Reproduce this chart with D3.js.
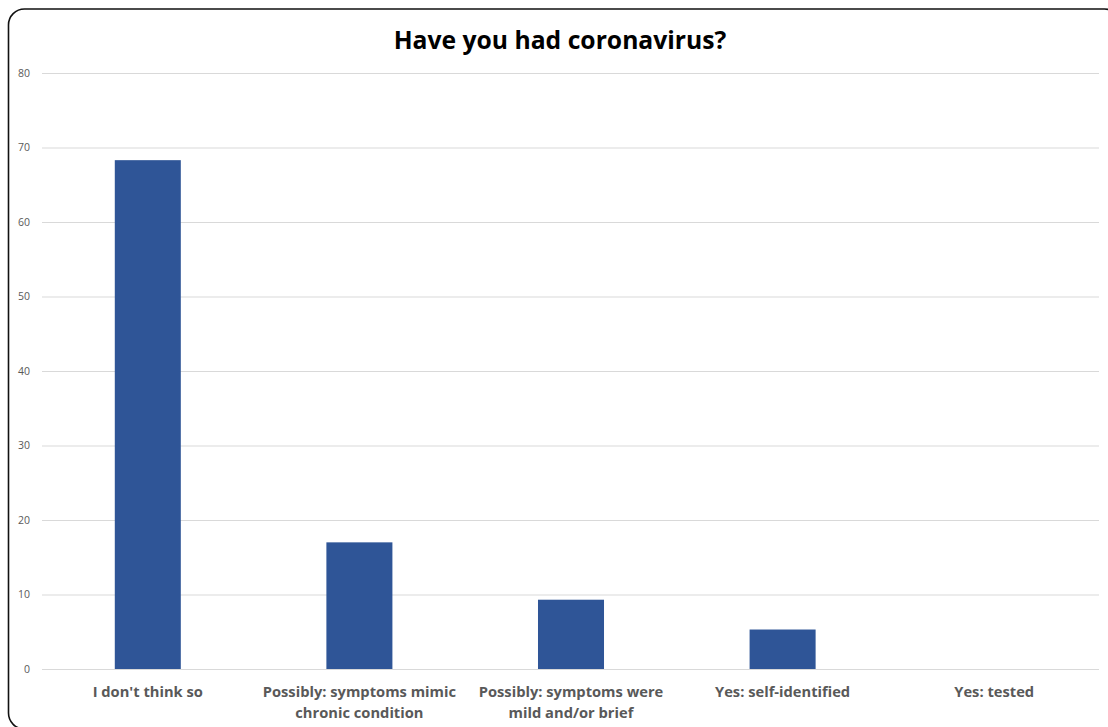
<!DOCTYPE html>
<html>
<head>
<meta charset="utf-8">
<script src="https://cdn.jsdelivr.net/npm/d3@7"></script>
<style>
  html, body { margin: 0; padding: 0; background: #fff; }
  svg { display: block; }
</style>
</head>
<body>
<script>
// Survey responses: "Have you had coronavirus?"
const categories = [
  ["I don't think so"],
  ["Possibly: symptoms mimic", "chronic condition"],
  ["Possibly: symptoms were", "mild and/or brief"],
  ["Yes: self-identified"],
  ["Yes: tested"]
];
const values = [68.3, 17.0, 9.3, 5.3, 0];
const yTicks = [0, 10, 20, 30, 40, 50, 60, 70, 80];
const title = "Have you had coronavirus?";

const W = 1108, H = 727;
const margin = { left: 42, right: 8, top: 73, bottom: 58 };
const font = "'Open Sans', Lato, sans-serif";

const svg = d3.select("body").append("svg")
  .attr("width", W).attr("height", H);

// chart frame with rounded corners
svg.append("rect")
  .attr("x", 8.5).attr("y", 9)
  .attr("width", 1112).attr("height", 720)
  .attr("rx", 16).attr("ry", 16)
  .attr("fill", "#fff")
  .attr("stroke", "#111").attr("stroke-width", 1.6);

const x = d3.scaleBand()
  .domain(d3.range(categories.length))
  .range([margin.left, W - margin.right])
  .paddingInner(0.688).paddingOuter(0.344);

const y = d3.scaleLinear()
  .domain([0, 80])
  .range([H - margin.bottom, margin.top]);

// gridlines + y labels
const yAxis = d3.axisLeft(y).tickValues(yTicks)
  .tickSize(-(W - margin.left - margin.right - 1)).tickPadding(12)
  .tickFormat(d3.format("d"));
const gy = svg.append("g")
  .attr("transform", `translate(${margin.left},0)`)
  .call(yAxis);
gy.select(".domain").remove();
gy.selectAll(".tick line").attr("stroke", "#d9d9d9").attr("stroke-width", 1);
gy.selectAll(".tick text")
  .attr("fill", "#595959")
  .style("font-family", font)
  .style("font-size", "10.5px");

// bars
svg.append("g").selectAll("rect")
  .data(values)
  .join("rect")
  .attr("x", (d, i) => x(i))
  .attr("y", d => y(d))
  .attr("width", x.bandwidth())
  .attr("height", d => y(0) - y(d))
  .attr("fill", "#2f5597");

// category labels
const lab = svg.append("g").selectAll("text")
  .data(categories)
  .join("text")
  .attr("x", (d, i) => x(i) + x.bandwidth() / 2)
  .attr("y", 697)
  .attr("text-anchor", "middle")
  .attr("fill", "#595959")
  .style("font-family", font)
  .style("font-weight", "bold")
  .style("font-size", "14.7px");
lab.selectAll("tspan")
  .data(d => d)
  .join("tspan")
  .attr("x", function () { return this.parentNode.getAttribute("x"); })
  .attr("dy", (d, i) => i === 0 ? 0 : 21)
  .text(d => d);

// title
svg.append("text")
  .attr("x", 560).attr("y", 49)
  .attr("text-anchor", "middle")
  .attr("fill", "#000")
  .style("font-family", font)
  .style("font-weight", "bold")
  .style("font-size", "24.7px")
  .text(title);
</script>
</body>
</html>
